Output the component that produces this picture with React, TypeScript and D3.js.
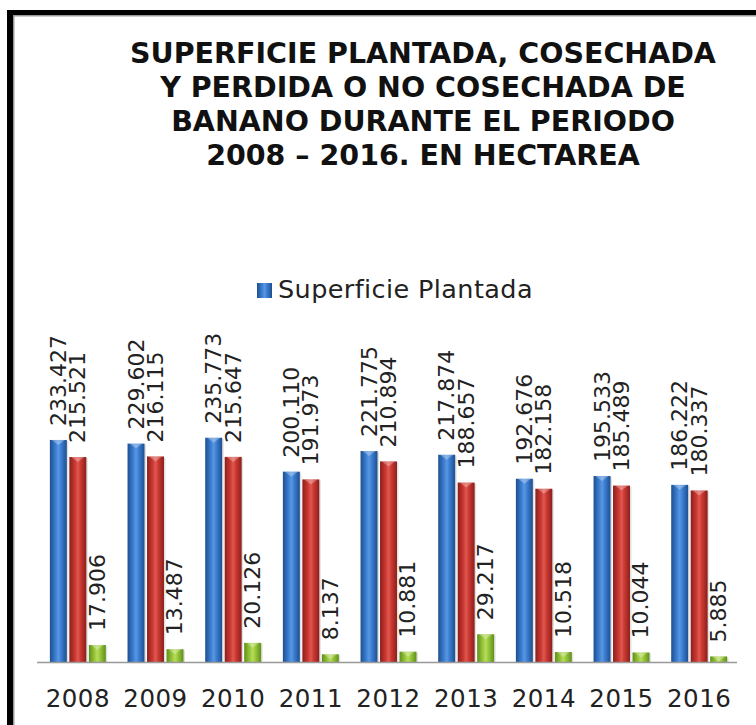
import React from "react";
import * as d3 from "d3";

const years = ["2008", "2009", "2010", "2011", "2012", "2013", "2014", "2015", "2016"];
const plantada = [233427, 229602, 235773, 200110, 221775, 217874, 192676, 195533, 186222];
const cosechada = [215521, 216115, 215647, 191973, 210894, 188657, 182158, 185489, 180337];
const perdida = [17906, 13487, 20126, 8137, 10881, 29217, 10518, 10044, 5885];
const seriesNames = ["Superficie Plantada", "Superficie Cosechada", "Superficie Perdida"];
const titleLines = [
  "SUPERFICIE PLANTADA, COSECHADA",
  "Y PERDIDA O NO COSECHADA DE",
  "BANANO DURANTE EL PERIODO",
  "2008 – 2016. EN HECTAREA",
];

const W = 756;
const H = 725;
const baseY = 662;

const fmt = (v: number) => d3.format(",")(v).replace(/,/g, ".");

const grads = [
  { id: "gBlue", edge: "#1d4f8f", mid: "#3d80d4", hi: "#5a97e0" },
  { id: "gRed", edge: "#8a1f1c", mid: "#cf3a33", hi: "#dd5a52" },
  { id: "gGreen", edge: "#5f8f1a", mid: "#9cc93e", hi: "#b5dc5c" },
];

export default function App() {
  const series = [plantada, cosechada, perdida];
  const x = d3.scaleBand<string>().domain(years).range([39, 738]).paddingInner(0.28).paddingOuter(0.14);
  const xs = d3.scaleBand<number>().domain([0, 1, 2]).range([0, x.bandwidth()]).paddingInner(0.13);
  const y = d3.scaleLinear().domain([0, 250000]).range([baseY, baseY - 237.8]);
  const font = "'DejaVu Sans', Verdana, sans-serif";

  return (
    <svg width={W} height={H} style={{ position: "absolute", left: 0, top: 0, background: "#fff" }}>
      <defs>
        {grads.map((g) => (
          <linearGradient key={g.id} id={g.id} x1="0" x2="1" y1="0" y2="0">
            <stop offset="0" stopColor={g.edge} />
            <stop offset="0.35" stopColor={g.mid} />
            <stop offset="0.5" stopColor={g.hi} />
            <stop offset="0.65" stopColor={g.mid} />
            <stop offset="1" stopColor={g.edge} />
          </linearGradient>
        ))}
      </defs>
      <rect x={0} y={0} width={W} height={H} fill="#fff" />
      {/* frame */}
      <rect x={7} y={10} width={W - 7} height={5} fill="#000" />
      <rect x={13} y={15} width={W - 13} height={1.5} fill="#999" />
      <rect x={7} y={10} width={6} height={H - 10} fill="#000" />
      <rect x={13} y={15} width={1.5} height={H - 15} fill="#999" />

      {/* title */}
      <g fontFamily="'DejaVu Sans', Verdana, sans-serif" fontWeight="bold" fontSize={28.5} fill="#111" textAnchor="middle">
        {titleLines.map((t, i) => (
          <text key={i} x={423} y={63 + i * 34}>{t}</text>
        ))}
      </g>

      {/* legend */}
      <rect x={257} y={283} width={15} height={15} fill="url(#gBlue)" />
      <text x={278} y={298} fontFamily={font} fontSize={25.5} letterSpacing={0.4} fill="#222">{seriesNames[0]}</text>

      {/* bars */}
      {years.map((yr, i) => (
        <g key={yr} transform={`translate(${x(yr)},0)`}>
          {series.map((s, k) => {
            const v = s[i];
            const bx = xs(k)!;
            const bw = xs.bandwidth();
            const top = y(v);
            const cx = bx + bw / 2;
            return (
              <g key={k}>
                <rect x={bx + 1.5} y={top + 1} width={bw} height={baseY - top} fill="#000" opacity={0.12} />
                <rect x={bx} y={top} width={bw} height={baseY - top} fill={`url(#${grads[k].id})`} />
                <path d={`M${bx + 2},${top} L${bx + bw - 2},${top} L${cx},${top + 5} Z`} fill="#fff" opacity={0.3} />
                <text
                  transform={`translate(${cx},${top - 14}) rotate(-90)`}
                  dominantBaseline="central"
                  fontFamily={font}
                  fontSize={22}
                  fill="#222"
                >
                  {fmt(v)}
                </text>
              </g>
            );
          })}
        </g>
      ))}

      {/* axis */}
      <line x1={37} x2={737} y1={baseY + 0.5} y2={baseY + 0.5} stroke="#999" strokeWidth={1.5} />
      {years.map((yr) => (
        <text key={yr} x={x(yr)! + x.bandwidth() / 2} y={707} textAnchor="middle" fontFamily={font} fontSize={24.5} letterSpacing={0.5} fill="#222">
          {yr}
        </text>
      ))}
    </svg>
  );
}
